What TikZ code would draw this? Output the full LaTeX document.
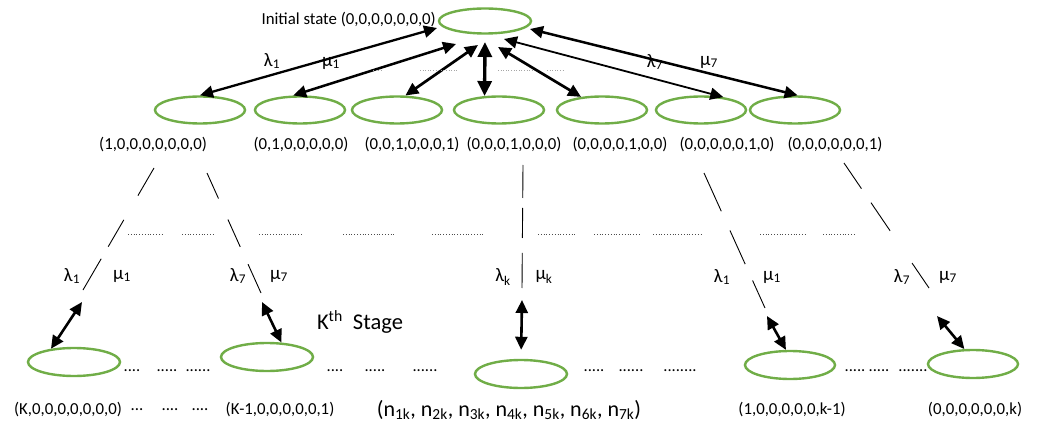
\documentclass[tikz,border=0pt]{standalone}
\usepackage{fontspec}
\setmainfont{Carlito}
\usetikzlibrary{arrows.meta,shapes.geometric}
\definecolor{stategreen}{RGB}{112,173,71}
\begin{document}
\begin{tikzpicture}[x=1pt,y=-1pt,
  state/.style={ellipse,draw=stategreen,line width=2.4pt,minimum width=90pt,minimum height=27pt,inner sep=0pt},
  lbl/.style={font=\fontsize{16.8}{19}\selectfont,inner sep=0pt},
  rate/.style={font=\fontsize{19}{21}\selectfont,inner sep=0pt},
  dots/.style={font=\fontsize{16.5}{19}\selectfont,inner sep=0pt},
  biarrow/.style={{Triangle[length=13pt,width=12pt]}-{Triangle[length=13pt,width=12pt]},line width=2.6pt},
  branch/.style={line width=0.9pt},
  leader/.style={line width=1pt,dash pattern=on 1pt off 1.8pt,black!70},
  faintleader/.style={line width=0.9pt,dash pattern=on 1pt off 1.6pt,black!35},
]
\useasboundingbox (0,0) rectangle (1042,433);

% ---- initial state ----
\node[state,minimum width=92pt,minimum height=25pt] (init) at (485,21) {};
\node[lbl,anchor=east] (initlbl) at (436,20) {Initial state (0,0,0,0,0,0,0)};

% ---- first stage ----
\node[state] (e1) at (200,110) {};
\node[state] (e2) at (300,110) {};
\node[state] (e3) at (397,110) {};
\node[state] (e4) at (499,110) {};
\node[state] (e5) at (602,110) {};
\node[state] (e6) at (701,110) {};
\node[state] (e7) at (795,110) {};

\node[lbl] (l1) at (153,145) {(1,0,0,0,0,0,0,0)};
\node[lbl] (l2) at (301,145) {(0,1,0,0,0,0,0)};
\node[lbl] (l3) at (412,145) {(0,0,1,0,0,0,1)};
\node[lbl] (l4) at (514,145) {(0,0,0,1,0,0,0)};
\node[lbl] (l5) at (620,145) {(0,0,0,0,1,0,0)};
\node[lbl] (l6) at (727,145) {(0,0,0,0,0,1,0)};
\node[lbl] (l7) at (835,145) {(0,0,0,0,0,0,1)};

% arrow ends gathered under the initial state
\coordinate (t1) at (437,28);
\coordinate (t2) at (456,44);
\coordinate (t3) at (478,45);
\coordinate (t4) at (485,42);
\coordinate (t5) at (498,47);
\coordinate (t6) at (504,39);
\coordinate (t7) at (530,29);

\draw[biarrow,line width=2.3pt] (t1) -- (e1.north);
\draw[biarrow,line width=2.5pt] (t2) -- (e2.115);
\draw[biarrow,line width=2.7pt] (t3) -- (e3.60);
\draw[{Triangle[length=15pt,width=14pt]}-{Triangle[length=15pt,width=14pt]},line width=3.4pt] (t4) -- (e4.136);
\draw[biarrow,line width=2.7pt] (t5) -- (e5.148);
\draw[biarrow,line width=1.8pt] (t6) -- (e6.30);
\draw[biarrow,line width=2.5pt] (t7) -- (e7.80);

\node[rate] (lam1) at (272,61) {λ\textsubscript{1}};
\node[rate] (mu1) at (331,63) {μ\textsubscript{1}};
\node[rate] (lam7) at (655,62) {λ\textsubscript{7}};
\node[rate] (mu7) at (709,62) {μ\textsubscript{7}};

\draw[faintleader] (373,70) -- (383,70);
\draw[faintleader] (420,70) -- (457,70);
\draw[faintleader] (498,70) -- (532,70);
\draw[faintleader] (547,70) -- (563,70);

% ---- branches down to the k-th stage ----
\coordinate (a1) at (154,168); \coordinate (a2) at (83,290);
\coordinate (b1s) at (207,173); \coordinate (b2s) at (261,293);
\coordinate (c1) at (523,165); \coordinate (c2) at (522,288);
\coordinate (d1) at (704,173); \coordinate (d2) at (765,308);
\coordinate (f1) at (844,163); \coordinate (f2) at (929,288);

\draw[branch,dash pattern=on 32pt off 28pt on 31pt off 14pt on 60pt] (a1) -- (a2);
\draw[branch,dash pattern=on 28pt off 23pt on 30pt off 19pt on 60pt] (b1s) -- (b2s);
\draw[branch,dash pattern=on 33pt off 10pt on 30pt off 15pt on 60pt] (c1) -- (c2);
\draw[branch,dash pattern=on 42pt off 21pt on 37pt off 18pt on 60pt] (d1) -- (d2);
\draw[branch,dash pattern=on 31pt off 17pt on 34pt off 39pt on 60pt] (f1) -- (f2);

% dotted leaders between the branches
\foreach \xa/\xb in {128/163,182/213,259/303,343/395,432/485,538/576,594/640,653/703,760/807,823/856}
  \draw[leader] (\xa,234) -- (\xb,234);

\node[rate] (lam1a) at (72,276) {λ\textsubscript{1}};
\node[rate] (mu1a) at (122,276) {μ\textsubscript{1}};
\node[rate] (lam7a) at (238,276) {λ\textsubscript{7}};
\node[rate] (mu7a) at (279,276) {μ\textsubscript{7}};
\node[rate] (lamk) at (503,277) {λ\textsubscript{k}};
\node[rate] (muk) at (544,277) {μ\textsubscript{k}};
\node[rate] (lam1b) at (722,277) {λ\textsubscript{1}};
\node[rate] (mu1b) at (772,277) {μ\textsubscript{1}};
\node[rate] (lam7b) at (902,277) {λ\textsubscript{7}};
\node[rate] (mu7b) at (948,277) {μ\textsubscript{7}};

\node[font=\fontsize{22.5}{25}\selectfont,inner sep=0pt] (kth) at (360,322) {K\textsuperscript{th}\ \ Stage};

% ---- k-th stage ----
\node[state,minimum width=92pt,minimum height=28pt] (s1) at (74,362) {};
\node[state,minimum width=92pt,minimum height=28pt] (s2) at (267,357) {};
\node[state,minimum width=92pt,minimum height=28pt] (s3) at (521,374) {};
\node[state,minimum width=90pt,minimum height=28pt] (s4) at (790,365) {};
\node[state,minimum width=90pt,minimum height=28pt] (s5) at (973,364) {};

\coordinate (g1) at (82,302);
\coordinate (g2) at (262,302);
\coordinate (g3) at (522,300);
\coordinate (g4) at (767,316);
\coordinate (g5) at (937,316);

\draw[biarrow] (g1) -- (s1.150);
\draw[biarrow] (g2) -- (s2.45);
\draw[biarrow,shorten >=9pt] (g3) -- (s3.north);
\draw[biarrow] (g4) -- (s4.105);
\draw[biarrow] (g5) -- (s5.120);

% dots between the k-th stage states
\node[dots] (p1) at (132,371) {....};
\node[dots] (p2) at (167,371) {.....};
\node[dots] (p3) at (198,371) {......};
\node[dots] (p4) at (335,371) {....};
\node[dots] (p5) at (375,371) {.....};
\node[dots] (p6) at (425,371) {......};
\node[dots] (p7) at (594,371) {.....};
\node[dots] (p8) at (631,371) {......};
\node[dots] (p9) at (680,371) {........};
\node[dots] (p10) at (855,371) {.....};
\node[dots] (p11) at (879,371) {.....};
\node[dots] (p12) at (913,371) {.......};

% k-th stage labels
\node[lbl] (m1) at (68,410) {(K,0,0,0,0,0,0,0)};
\node[lbl] (m1a) at (137,410) {...};
\node[lbl] (m1b) at (170,410) {....};
\node[lbl] (m1c) at (200,410) {....};
\node[lbl] (m2) at (280,410) {(K-1,0,0,0,0,0,1)};
\node[font=\fontsize{22}{25}\selectfont,inner sep=0pt] (m3) at (509,410) {(n\textsubscript{1k}, n\textsubscript{2k}, n\textsubscript{3k}, n\textsubscript{4k}, n\textsubscript{5k}, n\textsubscript{6k}, n\textsubscript{7k})};
\node[lbl] (m4) at (792,410) {(1,0,0,0,0,0,k-1)};
\node[lbl] (m5) at (975,410) {(0,0,0,0,0,0,k)};
\end{tikzpicture}
\end{document}
